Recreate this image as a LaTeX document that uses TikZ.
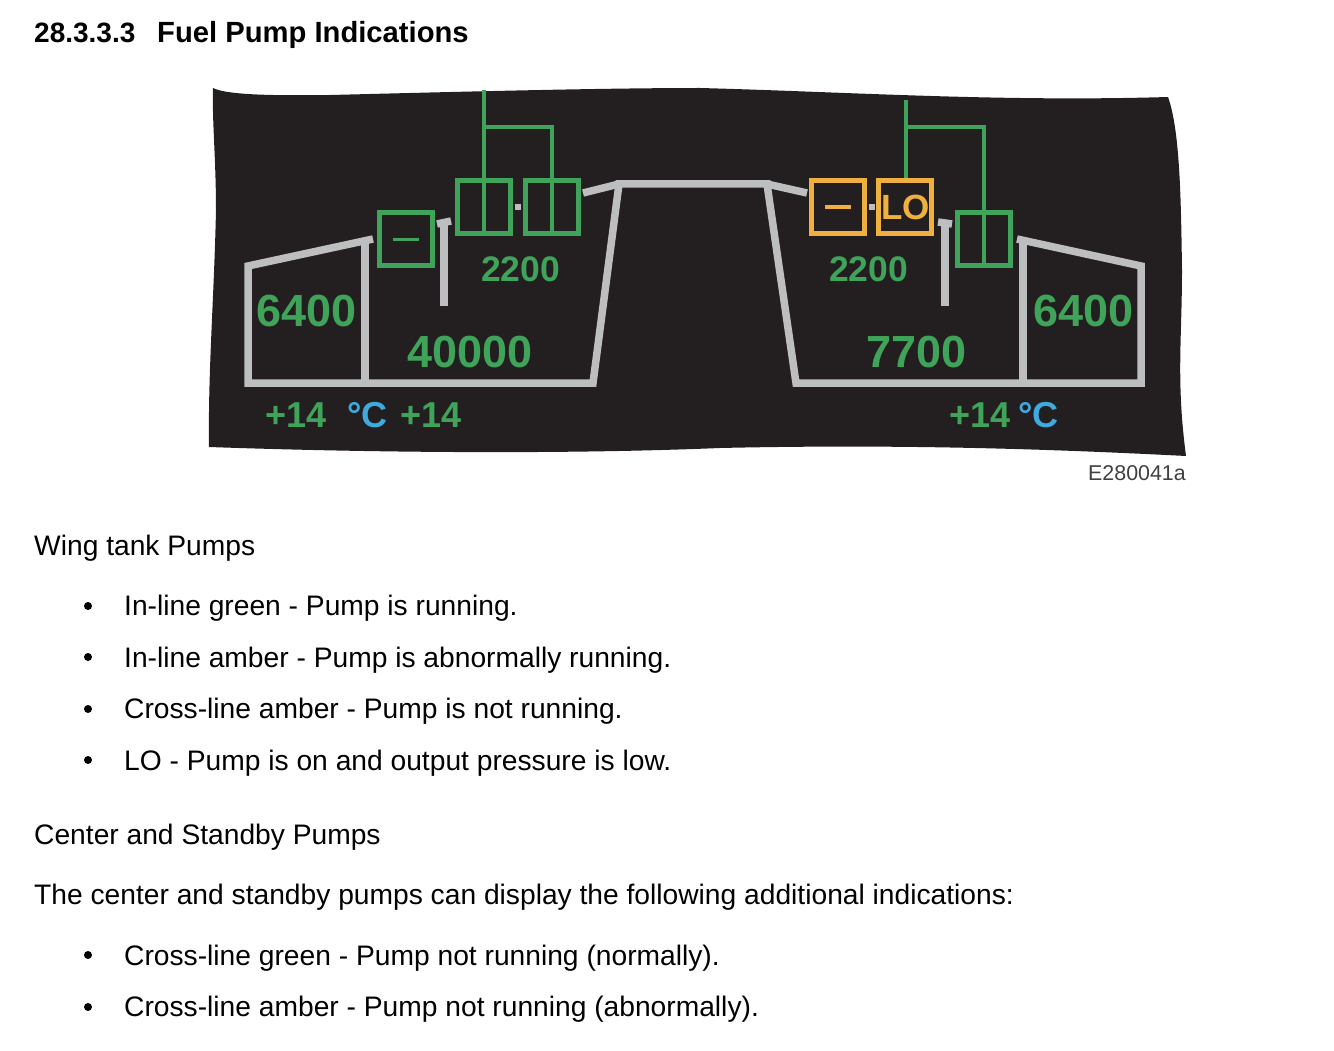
\documentclass[tikz,border=0pt]{standalone}
\usepackage{fontspec}
\setmainfont{Liberation Sans}
\usetikzlibrary{positioning}
\definecolor{panelblack}{HTML}{231F20}
\definecolor{ecamgreen}{HTML}{3FA45A}
\definecolor{ecamamber}{HTML}{EFB040}
\definecolor{ecamgray}{HTML}{BCBEC0}
\definecolor{ecamblue}{HTML}{3FA9E0}
\newcommand{\pumpdash}{\rule{26pt}{3.5pt}}

\begin{document}
\begin{tikzpicture}[x=1pt, y=-1pt,
  pump/.style={draw=ecamgreen, line width=5pt, minimum size=53pt, inner sep=0pt, text=ecamgreen},
  pumpamber/.style={pump, draw=ecamamber, text=ecamamber},
  tank/.style={draw=ecamgray, line width=7.5pt, miter limit=10},
  feed/.style={draw=ecamgreen, line width=4pt},
  qty/.style={anchor=base west, inner sep=0pt, font=\fontsize{45}{45}\selectfont\bfseries, text=ecamgreen},
  press/.style={qty, font=\fontsize{35.5}{36}\selectfont\bfseries},
  temp/.style={qty, font=\fontsize{36}{36}\selectfont\bfseries},
  unit/.style={temp, text=ecamblue},
  body/.style={anchor=base west, inner sep=0pt, font=\fontsize{28.2}{30}\selectfont},
  bullet/.style={circle, fill=black, inner sep=0pt, minimum size=8pt},
]
\useasboundingbox (0,0) rectangle (1334,1051);

% page heading
\node[body, font=\fontsize{28}{30}\selectfont\bfseries] (secnum) at (34,43) {28.3.3.3};
\node[body, font=\fontsize{29.2}{30}\selectfont\bfseries] (title) at (157,43) {Fuel Pump Indications};

% torn black panel
\fill[panelblack] (213,88) .. controls (225,94) and (260,96) .. (330,95)
  .. controls (450,92) and (600,88) .. (700,88)
  .. controls (850,92) and (1000,102) .. (1168,97)
  .. controls (1180,130) and (1181,200) .. (1182,270)
  .. controls (1182,340) and (1176,380) .. (1186,456)
  .. controls (1050,449) and (900,444) .. (720,448)
  .. controls (550,455) and (350,452) .. (209,447)
  .. controls (208,370) and (214,300) .. (216,210)
  .. controls (216,160) and (212,120) .. (213,88) -- cycle;

% tanks
\draw[tank] (373,239) -- (248,266) -- (248,383) -- (593,383) -- (619,184)
  -- (767,184) -- (796,383) -- (1141,383) -- (1141,266) -- (1017,239);
\draw[tank] (365,240) -- (365,383);
\draw[tank] (1023,240) -- (1023,383);
\draw[tank] (583,193) -- (619,184);
\draw[tank] (767,184) -- (807,193);
\draw[tank] (444,223) -- (444,306);
\draw[tank] (437,224) -- (451,221);
\draw[tank] (945,223) -- (945,306);
\draw[tank] (938,222) -- (952,224);

% pumps
\node[pump] (stbyL) at (405.5,239.5) {\pumpdash};
\node[pump] (pumpL1) at (484,207) {};
\node[pump] (pumpL2) at (551.5,207) {};
\node[pumpamber] (pumpR1) at (838,207) {\pumpdash};
\node[pumpamber, font=\fontsize{35}{35}\selectfont\bfseries] (pumpR2) at (905,207) {\hspace{1pt}LO};
\node[pump] (stbyR) at (984,239.5) {};

% bits of line between the pumps
\draw[tank, line width=6pt, shorten <=1.5pt, shorten >=1.5pt] (pumpL1.east) -- (pumpL2.west);
\draw[tank, line width=6pt, shorten <=1.5pt, shorten >=1.5pt] (pumpR1.east) -- (pumpR2.west);

% feed lines
\coordinate (feedL) at (484,90);
\coordinate (feedR) at (906,100);
\coordinate (teeL) at (484,127);
\coordinate (teeR) at (906,127);
\draw[feed] (feedL) -- (pumpL1.south);
\draw[feed] (teeL) -| (pumpL2.south);
\draw[feed] (feedR) -- (feedR |- pumpR2.north);
\draw[feed] (teeR) -| (stbyR.south);

% values
\node[qty] (qtyL) at (256,326) {6400};
\node[qty] (qtyC) at (407,367) {40000};
\node[qty] (qtyM) at (866,367) {7700};
\node[qty] (qtyR) at (1033,326) {6400};
\node[press] (pressL) at (481,282) {2200};
\node[press] (pressR) at (829,281) {2200};
\node[temp] (tempL) at (265,427) {+14};
\node[unit] (unitL) at (347,427) {°C};
\node[temp] (tempC) at (400,427) {+14};
\node[temp] (tempR) at (949,427) {+14};
\node[unit] (unitR) at (1018,427) {°C};
\node[body, font=\fontsize{21.4}{22}\selectfont, text=black!75] (ref) at (1088,480) {E280041a};

% text under the panel
\node[body] (wing) at (34,555) {Wing tank Pumps};
\node[bullet] (b1) at (88,606) {};
\node[body] (t1) at (124,615) {In-line green - Pump is running.};
\node[bullet] (b2) at (88,657) {};
\node[body] (t2) at (124,667) {In-line amber - Pump is abnormally running.};
\node[bullet] (b3) at (88,709) {};
\node[body] (t3) at (124,718) {Cross-line amber - Pump is not running.};
\node[bullet] (b4) at (88,760) {};
\node[body] (t4) at (124,770) {LO - Pump is on and output pressure is low.};
\node[body] (center) at (34,844) {Center and Standby Pumps};
\node[body] (intro) at (34,904) {The center and standby pumps can display the following additional indications:};
\node[bullet] (b5) at (88,955) {};
\node[body] (t5) at (124,965) {Cross-line green - Pump not running (normally).};
\node[bullet] (b6) at (88,1007) {};
\node[body] (t6) at (124,1016) {Cross-line amber - Pump not running (abnormally).};
\end{tikzpicture}
\end{document}
